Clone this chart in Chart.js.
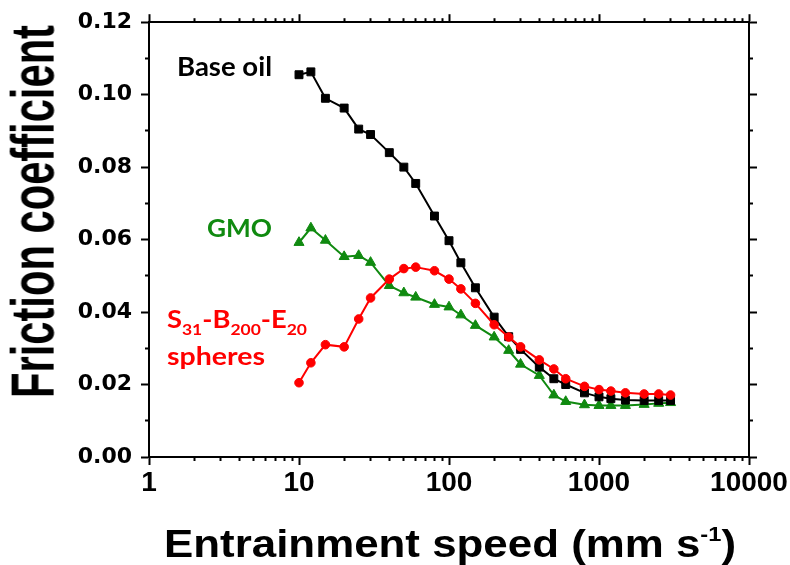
<!DOCTYPE html>
<html>
<head>
<meta charset="utf-8">
<script src="https://cdn.jsdelivr.net/npm/chart.js@4.4.1/dist/chart.umd.min.js"></script>
<style>
  html, body { margin: 0; padding: 0; background: #fff; }
  #wrap { position: relative; width: 790px; height: 565px; overflow: hidden; }
  canvas { position: absolute; left: 0; top: 0; }
  .lbl { position: absolute; left: 0; top: 0; white-space: nowrap; line-height: 1; font-weight: bold; transform-origin: 0 0; }
  .axis { font-family: 'Liberation Sans', Arial, sans-serif; color: #000; }
  .note { font-family: Lato, 'Open Sans', sans-serif; }
  .sub { font-size: 16px; vertical-align: -7px; }
  .sup { font-size: 21px; vertical-align: 16px; }
</style>
</head>
<body>
<div id="wrap">
  <canvas id="frictionChart" width="790" height="565"></canvas>
  <div class="lbl axis" id="yTitle" style="font-size:42px">Friction coefficient</div>
  <div class="lbl axis" id="xTitle" style="font-size:39px">Entrainment speed (mm s<span class="sup">-1</span>)</div>
  <div class="lbl note" id="lblBase" style="font-size:26px;color:#000">Base oil</div>
  <div class="lbl note" id="lblGmo" style="font-size:24px;color:#108a10">GMO</div>
  <div class="lbl note" id="lblSph1" style="font-size:25px;color:#ff0000">S<span class="sub">31</span>-B<span class="sub">200</span>-E<span class="sub">20</span></div>
  <div class="lbl note" id="lblSph2" style="font-size:25px;color:#ff0000">spheres</div>
</div>
<script>
// entrainment speed (mm/s), shared by all three series
const speeds = [10, 12, 15, 20, 25, 30, 40, 50, 60, 80, 100, 120, 150, 200, 250, 300, 400, 500, 600, 800, 1000, 1200, 1500, 2000, 2500, 3000];

const baseOil = [0.1055, 0.1063, 0.0990, 0.0963, 0.0905, 0.0890, 0.0840, 0.0800, 0.0755, 0.0665, 0.0597, 0.0536, 0.0467, 0.0386, 0.0332, 0.0297, 0.0248, 0.0216, 0.0200, 0.0177, 0.0166, 0.0161, 0.0157, 0.0156, 0.0156, 0.0156];
const gmo = [0.0592, 0.0632, 0.0598, 0.0553, 0.0556, 0.0537, 0.0473, 0.0453, 0.0441, 0.0421, 0.0414, 0.0392, 0.0363, 0.0331, 0.0294, 0.0256, 0.0225, 0.0171, 0.0153, 0.0144, 0.0142, 0.0142, 0.0142, 0.0145, 0.0148, 0.0150];
const spheres = [0.0205, 0.0260, 0.0310, 0.0304, 0.0381, 0.0439, 0.0491, 0.0520, 0.0524, 0.0514, 0.0491, 0.0464, 0.0424, 0.0365, 0.0331, 0.0304, 0.0268, 0.0243, 0.0216, 0.0195, 0.0186, 0.0182, 0.0177, 0.0174, 0.0174, 0.0171];

const xTickLabels = ['1', '10', '100', '1000', '10000'];
const yTickLabels = ['0.00', '0.02', '0.04', '0.06', '0.08', '0.10', '0.12'];

const BLACK = '#000000';
const GREEN = '#108a10';
const RED = '#ff0000';
const NONE = 'rgba(0,0,0,0)';

const pts = ys => speeds.map((s, i) => ({ x: s, y: ys[i] }));

const isDecade = v => Math.abs(Math.log10(v) - Math.round(Math.log10(v))) < 1e-6;
const isEvenY = v => Math.round(v * 100) % 2 === 0;

// drop the 1.5x ticks chart.js adds on log axes, keep 1..9 per decade
function plainLogTicks(scale) {
    scale.ticks = scale.ticks.filter(t => {
        const m = t.value / Math.pow(10, Math.floor(Math.log10(t.value) + 1e-9));
        return Math.abs(m - Math.round(m)) < 1e-6;
    });
}

function logAxis(position, weight, size, len, major, labels) {
    return {
        type: 'logarithmic',
        position: position,
        weight: weight,
        min: 1,
        max: 10000,
        afterBuildTicks: plainLogTicks,
        afterFit: s => { s.height = size; },
        border: { display: major, color: BLACK, width: 2 },
        grid: {
            drawOnChartArea: false,
            tickLength: len,
            tickWidth: 2,
            tickColor: c => (isDecade(c.tick.value) === major ? BLACK : NONE)
        },
        ticks: {
            display: labels,
            autoSkip: false,
            maxRotation: 0,
            padding: 1,
            color: BLACK,
            font: { family: 'Liberation Sans', weight: 'bold', size: 28 },
            callback: v => {
                const s = String(v);
                return isDecade(v) && xTickLabels.includes(s) ? s : '';
            }
        }
    };
}

function linAxis(position, weight, size, len, major, labels) {
    return {
        type: 'linear',
        position: position,
        weight: weight,
        min: 0,
        max: 0.12,
        afterFit: s => { s.width = size; },
        border: { display: major, color: BLACK, width: 2 },
        grid: {
            drawOnChartArea: false,
            tickLength: len,
            tickWidth: 2,
            tickColor: c => (isEvenY(c.tick.value) === major ? BLACK : NONE)
        },
        ticks: {
            display: labels,
            stepSize: 0.01,
            maxTicksLimit: 20,
            autoSkip: false,
            padding: 9,
            color: BLACK,
            font: { family: 'DejaVu Sans', weight: 'bold', size: 22 },
            callback: v => {
                const s = v.toFixed(2);
                return yTickLabels.includes(s) ? s : '';
            }
        }
    };
}

function series(label, ys, color, style, radius) {
    return {
        label: label,
        data: pts(ys),
        borderColor: color,
        backgroundColor: color,
        pointBackgroundColor: color,
        pointBorderColor: color,
        pointBorderWidth: 1,
        pointStyle: style,
        pointRadius: radius,
        borderWidth: 2,
        tension: 0
    };
}

const ctx = document.getElementById('frictionChart').getContext('2d');

const frictionChart = new Chart(ctx, {
    type: 'line',
    data: {
        datasets: [
            series('S31-B200-E20 spheres', spheres, RED, 'circle', 4.3),
            series('Base oil', baseOil, BLACK, 'rect', 5.6),
            series('GMO', gmo, GREEN, 'triangle', 5.8)
        ]
    },
    options: {
        responsive: false,
        animation: false,
        devicePixelRatio: 1,
        layout: { padding: 0 },
        plugins: {
            legend: { display: false },
            tooltip: { enabled: false }
        },
        scales: {
            x: logAxis('bottom', 1, 108, 8, true, true),
            xMinor: logAxis('bottom', 0, 0, 4, false, false),
            x2: logAxis('top', 1, 13, 8, true, false),
            x2Minor: logAxis('top', 0, 0, 4, false, false),
            y: linAxis('left', 1, 149, 8, true, true),
            yMinor: linAxis('left', 0, 0, 4, false, false),
            y2: linAxis('right', 1, 41, 8, true, false),
            y2Minor: linAxis('right', 0, 0, 4, false, false)
        }
    }
});

// overlay text: stretch each label to the box it has in the figure
const LATO_BASE = 0.887;   // baseline offset / font size at line-height 1
const LIB_BASE = 0.8465;

function place(id, left, baseline, width, baseK) {
    const el = document.getElementById(id);
    const size = parseFloat(el.style.fontSize);
    const w = el.getBoundingClientRect().width;
    el.style.left = left + 'px';
    el.style.top = (baseline - size * baseK) + 'px';
    el.style.transform = 'scaleX(' + (width / w) + ')';
}

place('lblBase', 177, 76, 95, LATO_BASE);
place('lblGmo', 207, 237.5, 65, LATO_BASE);
place('lblSph1', 167, 328.5, 140, LATO_BASE);
place('lblSph2', 167, 365.5, 98, LATO_BASE);
place('xTitle', 164, 556, 572, LIB_BASE);

// rotated y title: text runs from y=398 up to y=25, cap top at x=10, baseline at x=54
(function () {
    const el = document.getElementById('yTitle');
    const size = 42;
    const w = el.getBoundingClientRect().width;
    const base = size * LIB_BASE;
    const capTop = base - size * 0.716;
    const sx = 373 / w;
    const sy = (54 - 10) / (base - capTop);
    el.style.left = (10 - sy * capTop) + 'px';
    el.style.top = '398px';
    el.style.transform = 'rotate(-90deg) scale(' + sx + ',' + sy + ')';
})();
</script>
</body>
</html>
